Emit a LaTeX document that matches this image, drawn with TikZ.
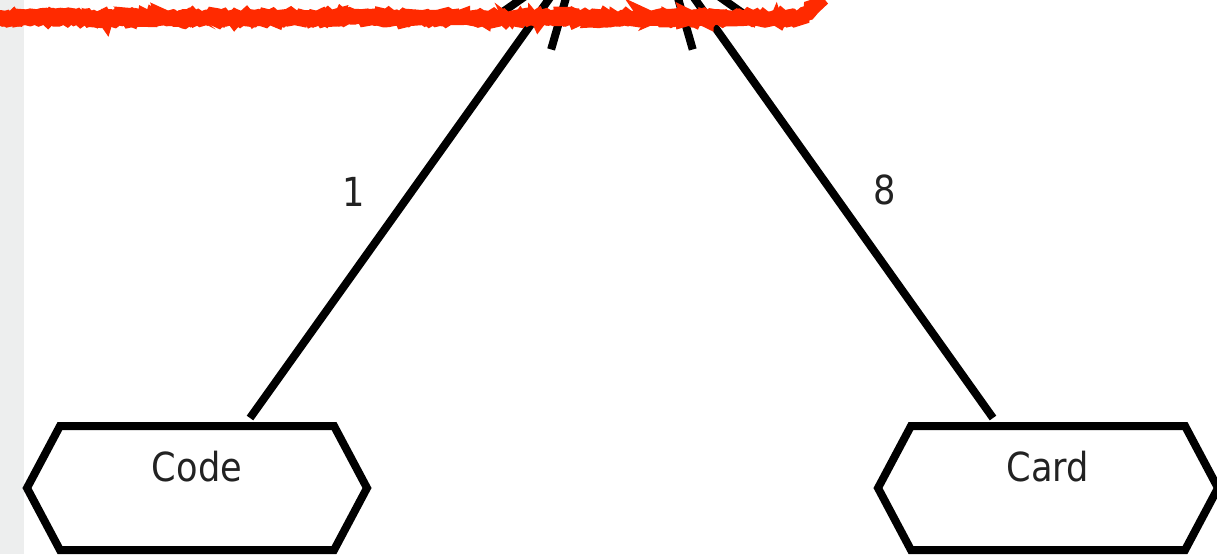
\documentclass[tikz,border=0pt]{standalone}
\usepackage{fontspec}
\usepackage{xcolor}
\usetikzlibrary{arrows.meta,shapes.symbols,decorations.pathmorphing}
\newfontfamily\diafont[FakeStretch=0.88]{DejaVu Sans}
\definecolor{ScribbleRed}{HTML}{FF2A00}
\definecolor{StripGray}{HTML}{EDEEEE}
\definecolor{InkDark}{HTML}{222222}

\begin{document}
\begin{tikzpicture}[x=1pt,y=-1pt,
    entity/.style={signal, signal to=west and east, signal pointer angle=124,
        draw=black, line width=8pt, fill=white, minimum width=340pt,
        minimum height=124pt, inner sep=0pt, text height=28pt, text depth=42pt,
        font=\diafont\fontsize{40}{42}\selectfont, text=InkDark},
    link/.style={draw=black, line width=8pt,
        -{Straight Barb[length=88pt,width=62pt,line width=8pt]}},
    mult/.style={font=\diafont\fontsize{40}{42}\selectfont, text=InkDark},
    scribble/.style={draw=ScribbleRed, line cap=round, decorate,
        decoration={random steps, segment length=3pt, amplitude=2pt}}]
  \useasboundingbox (0,0) rectangle (1217,554);
  \clip (0,0) rectangle (1217,554);
  \fill[StripGray] (0,0) rectangle (24,554);

  % entities at the bottom
  \node[entity] (code) at (197,488) {Code};
  \node[entity] (card) at (1048,488) {Card};

  % targets lie above the visible part
  \coordinate (tipL) at (584,-50);
  \coordinate (tipR) at (660,-50);

  \draw[link] ([xshift=53pt,yshift=4pt]code.north) -- (tipL);
  \draw[link] ([xshift=-55pt,yshift=4pt]card.north) -- (tipR);

  \node[mult] (one) at (354,192) {1};
  \node[mult] (eight) at (885,190) {8};

  % torn red edge
  \draw[scribble, line width=15pt] (0,18) -- (788,18) .. controls (803,18) and (812,12) .. (817,2);
  \draw[scribble, line width=6pt, decoration={random steps, segment length=5pt, amplitude=4pt}]
    (0,13) -- (795,14);
  \draw[scribble, line width=5pt, decoration={random steps, segment length=6pt, amplitude=4pt}]
    (0,23) -- (800,22);
\end{tikzpicture}
\end{document}
